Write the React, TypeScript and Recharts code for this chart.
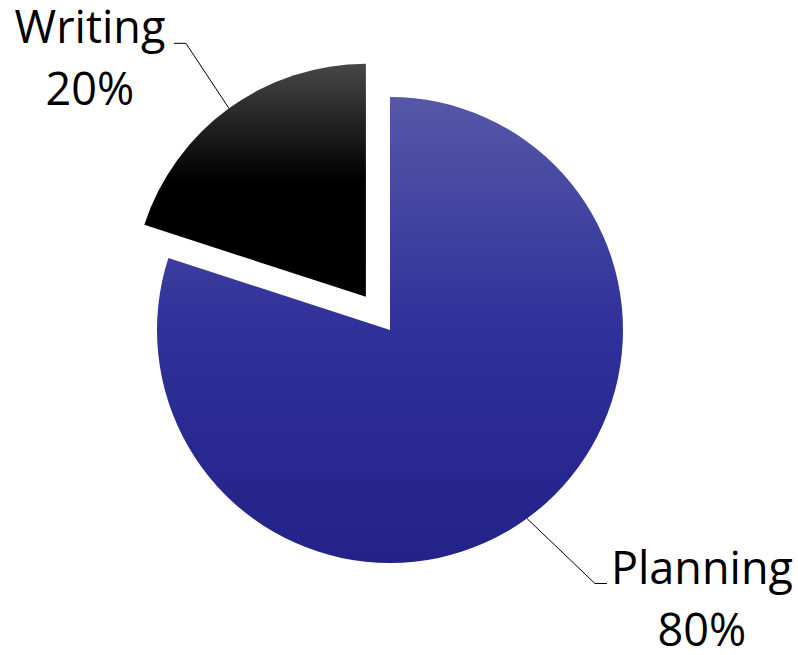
import React from "react";
import { PieChart, Pie, Cell } from "recharts";

const categories = ["Planning", "Writing"];
const values = [80, 20];
const data = categories.map((name, i) => ({ name, value: values[i] }));

const FONT = "'Open Sans', 'Noto Sans', sans-serif";
const RADIUS = 233;
const EXPLODE = 41; // px offset of the exploded slice

// label geometry (elbow offset from slice edge, text centre offset from elbow)
const labelCfg: Record<string, { dx: number; dy: number; tail: number; textDx: number }> = {
  Planning: { dx: 68, dy: 65, tail: 12, textDx: 107 },
  Writing: { dx: -43, dy: -65, tail: -12, textDx: -96 },
};

const RAD = Math.PI / 180;

const makeLabel = (only: string) => (props: any) => {
  const { cx, cy, midAngle, outerRadius, name, percent } = props;
  if (name !== only) return null;
  const c = labelCfg[name];
  const ex = cx + outerRadius * Math.cos(-midAngle * RAD);
  const ey = cy + outerRadius * Math.sin(-midAngle * RAD);
  const bx = ex + c.dx;
  const by = ey + c.dy;
  const tx = bx + c.tail;
  const textX = bx + c.textDx;
  return (
    <g>
      <polyline
        points={`${ex},${ey} ${bx},${by} ${tx},${by}`}
        fill="none"
        stroke="#000"
        strokeWidth={1}
      />
      <text
        x={textX}
        y={by}
        textAnchor="middle"
        fontFamily={FONT}
        fontSize={45}
        fill="#000"
      >
        <tspan x={textX} dy={0}>{name}</tspan>
        <tspan x={textX} dy={62}>{`${Math.round(percent * 100)}%`}</tspan>
      </text>
    </g>
  );
};

const CX = 390;
const CY = 330;
// exploded slice direction = mid angle of Writing slice (90 + 36 = 126 deg)
const wMid = (90 + (values[1] / (values[0] + values[1])) * 180) * RAD;
const WCX = CX + EXPLODE * Math.cos(wMid);
const WCY = CY - EXPLODE * Math.sin(wMid);

export default function App() {
  return (
    <div style={{ position: "absolute", left: 0, top: 0, width: 798, height: 655, background: "#fff" }}>
      <PieChart width={798} height={655} margin={{ top: 0, right: 0, bottom: 0, left: 0 }}>
        <defs>
          <linearGradient id="gPlan" x1="0" y1="0" x2="0" y2="1">
            <stop offset="0%" stopColor="#5558a8" />
            <stop offset="50%" stopColor="#2f3099" />
            <stop offset="100%" stopColor="#222288" />
          </linearGradient>
          <linearGradient id="gWrite" x1="0" y1="0" x2="0" y2="1">
            <stop offset="0%" stopColor="#474747" />
            <stop offset="50%" stopColor="#000000" />
            <stop offset="100%" stopColor="#000000" />
          </linearGradient>
        </defs>
        <Pie
          data={data}
          dataKey="value"
          nameKey="name"
          cx={CX}
          cy={CY}
          outerRadius={RADIUS}
          startAngle={90}
          endAngle={-270}
          stroke="none"
          isAnimationActive={false}
          labelLine={false}
          label={makeLabel("Planning")}
        >
          <Cell fill="url(#gPlan)" />
          <Cell fill="none" />
        </Pie>
        <Pie
          data={data}
          dataKey="value"
          nameKey="name"
          cx={WCX}
          cy={WCY}
          outerRadius={RADIUS}
          startAngle={90}
          endAngle={-270}
          stroke="none"
          isAnimationActive={false}
          labelLine={false}
          label={makeLabel("Writing")}
        >
          <Cell fill="none" />
          <Cell fill="url(#gWrite)" />
        </Pie>
      </PieChart>
    </div>
  );
}
